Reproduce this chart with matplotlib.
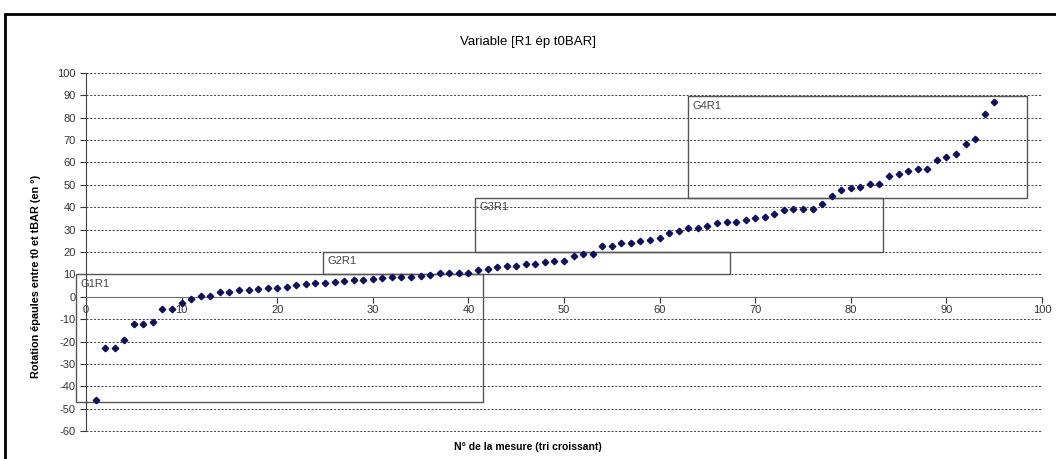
import matplotlib.pyplot as plt
from matplotlib.patches import Rectangle

# measure number (sorted ascending) and rotation values (deg)
mesure = list(range(1, 96))
rotation = [-46, -23, -23, -19.3, -12.4, -12.4, -11.1, -5.4, -5.4, -2.7,
            -0.9, 0.5, 0.5, 2.0, 2.0, 2.9, 3.1, 3.6, 4.0, 4.0,
            4.5, 5.1, 5.5, 6.0, 6.2, 6.7, 7.0, 7.3, 7.6, 7.9,
            8.3, 8.7, 8.7, 8.7, 9.3, 9.6, 10.4, 10.4, 10.7, 10.8,
            11.9, 12.4, 13.3, 13.7, 13.7, 14.5, 14.8, 15.4, 16.1, 16.1,
            18.1, 19.1, 19.1, 22.7, 22.7, 23.9, 24.1, 24.7, 25.3, 26.2,
            28.4, 29.3, 30.6, 30.6, 31.7, 33.0, 33.2, 33.2, 34.1, 35.0,
            35.7, 37.2, 38.6, 39.1, 39.1, 39.4, 41.4, 45.1, 47.5, 48.5,
            48.9, 50.5, 50.5, 54.1, 54.8, 56.4, 56.9, 56.9, 61.0, 62.4,
            63.6, 68.1, 70.5, 81.5, 87.0]

# group boxes: name, x0, x1, y0, y1
groupes = ["G1R1", "G2R1", "G3R1", "G4R1"]
box_x0 = [-1.0, 24.8, 40.7, 63.0]
box_x1 = [41.5, 67.4, 83.4, 98.4]
box_y0 = [-47, 10, 20, 44.2]
box_y1 = [10, 20, 44, 89.5]

plt.rcParams['font.family'] = ['Liberation Sans', 'DejaVu Sans']
plt.rcParams['axes.unicode_minus'] = False

fig = plt.figure(figsize=(10.56, 4.59), dpi=100)
ax = fig.add_axes([86/1056, 28/459, (1042-86)/1056, (431-73)/459])

ax.set_xlim(0, 100)
ax.set_ylim(-60, 100)
ax.set_xticks(range(0, 101, 10))
ax.set_yticks(range(-60, 101, 10))

for v in range(-60, 101, 10):
    if v != 0:
        ax.axhline(v, color='#222222', lw=0.6, ls=(0, (2.5, 2)), zorder=1, clip_on=False)

for sp in ['top', 'right']:
    ax.spines[sp].set_visible(False)
ax.spines['bottom'].set_position(('data', 0))
ax.spines['bottom'].set_color('#707070')
ax.spines['left'].set_color('#404040')
ax.tick_params(axis='both', labelsize=8, colors='#333333', length=4, width=0.8)
ax.tick_params(axis='x', pad=2)

for name, x0, x1, y0, y1 in zip(groupes, box_x0, box_x1, box_y0, box_y1):
    ax.add_patch(Rectangle((x0, y0), x1 - x0, y1 - y0, fill=False,
                           ec='#555555', lw=1.0, zorder=2, clip_on=False))
    ax.annotate(name, (x0, y1), xytext=(3, -3), textcoords='offset points',
                ha='left', va='top', fontsize=8, color='#444444', zorder=3,
                annotation_clip=False)

ax.plot(mesure, rotation, ls='none', marker='D', ms=3.3, color='#10105a', zorder=4)

fig.text(0.5, 1 - 42/459, "Variable [R1 ép t0BAR]", ha='center', va='center', fontsize=9.5)
fig.text(0.5, 1 - 447/459, "N° de la mesure (tri croissant)", ha='center', va='center',
         fontsize=7.5, fontweight='bold')
fig.text(36/1056, 1 - 276/459, "Rotation épaules entre t0 et tBAR (en °)", rotation=90,
         ha='center', va='center', fontsize=7.8, fontweight='bold')

fig.add_artist(Rectangle((5/1056, -0.05), 1.1, 1 - 14/459 + 0.05, transform=fig.transFigure,
                         fill=False, ec='black', lw=2))

fig.savefig('out.png', dpi=100)
